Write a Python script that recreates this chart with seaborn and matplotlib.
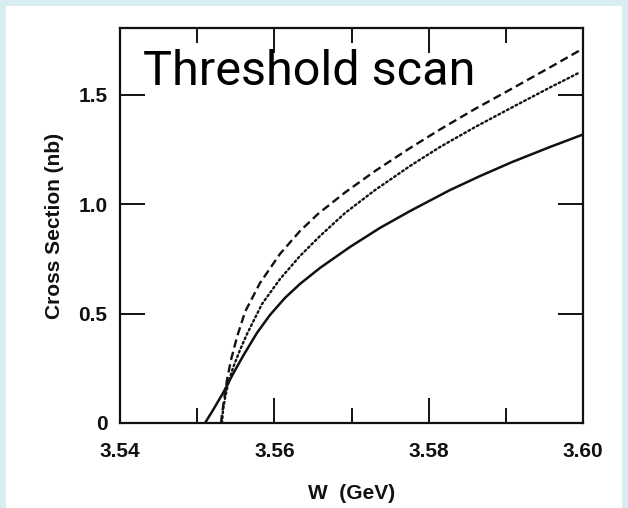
import matplotlib
matplotlib.use("Agg")
import matplotlib.pyplot as plt
import seaborn as sns
import pandas as pd
from matplotlib.patches import Rectangle
from matplotlib.ticker import MultipleLocator

# ---- data ----
w_solid = [3.55102, 3.55205, 3.55335, 3.55464, 3.55594, 3.55775, 3.55944, 3.56138,
           3.56333, 3.56592, 3.56981, 3.57369, 3.57758, 3.58276, 3.58665, 3.59080,
           3.59572, 3.60000]
s_solid = [0.000, 0.059, 0.137, 0.224, 0.306, 0.412, 0.494, 0.572,
           0.636, 0.709, 0.805, 0.892, 0.969, 1.065, 1.129, 1.193,
           1.262, 1.319]

w_dotted = [3.55322, 3.55335, 3.55361, 3.55400, 3.55464, 3.55555, 3.55646, 3.55840,
            3.56073, 3.56333, 3.56592, 3.56916, 3.57305, 3.57758, 3.58147, 3.58601,
            3.59080, 3.59572, 3.59935]
s_dotted = [0.000, 0.059, 0.114, 0.178, 0.252, 0.334, 0.407, 0.544,
            0.658, 0.764, 0.855, 0.960, 1.065, 1.175, 1.262, 1.353,
            1.443, 1.534, 1.599]

w_dashed = [3.55309, 3.55322, 3.55348, 3.55387, 3.55438, 3.55516, 3.55620, 3.55814,
            3.56073, 3.56333, 3.56566, 3.56916, 3.57305, 3.57758, 3.58147, 3.58601,
            3.59080, 3.59572, 3.60000]
s_dashed = [0.000, 0.041, 0.105, 0.197, 0.288, 0.393, 0.508, 0.640,
            0.773, 0.878, 0.956, 1.054, 1.152, 1.257, 1.342, 1.436,
            1.529, 1.626, 1.712]

x_ticks = [3.54, 3.56, 3.58, 3.60]
x_ticklabels = ["3.54", "3.56", "3.58", "3.60"]
y_ticks = [0, 0.5, 1.0, 1.5]
y_ticklabels = ["0", "0.5", "1.0", "1.5"]

title_text = "Threshold scan"
x_label = "W  (GeV)"
y_label = "Cross Section (nb)"

# ---- styling ----
sns.set_theme(style="ticks")
plt.rcParams["font.family"] = ["Liberation Sans", "DejaVu Sans"]
plt.rcParams["lines.scale_dashes"] = False

W, H = 628, 508
fig = plt.figure(figsize=(W / 100, H / 100), dpi=100)
fig.patch.set_facecolor("#d8edf1")
fig.patches.append(Rectangle((6 / W, 0), (622 - 6) / W, (H - 6) / H,
                             transform=fig.transFigure, facecolor="white",
                             edgecolor="none", zorder=-10))

ax = fig.add_axes([120 / W, (H - 423) / H, (583 - 120) / W, (423 - 28) / H])
ax.set_zorder(1)
ax.set_facecolor("white")

ink = "#111111"
df_s = pd.DataFrame({"W": w_solid, "sigma": s_solid})
df_d = pd.DataFrame({"W": w_dotted, "sigma": s_dotted})
df_a = pd.DataFrame({"W": w_dashed, "sigma": s_dashed})

sns.lineplot(data=df_s, x="W", y="sigma", ax=ax, color=ink, lw=1.8,
             estimator=None, sort=False)
sns.lineplot(data=df_d, x="W", y="sigma", ax=ax, color=ink, lw=1.7,
             estimator=None, sort=False, linestyle=(0, (1.3, 2.2)),
             dash_capstyle="round")
sns.lineplot(data=df_a, x="W", y="sigma", ax=ax, color=ink, lw=1.7,
             estimator=None, sort=False, linestyle=(0, (6, 3.2)))

ax.set_xlim(3.54, 3.60)
ax.set_ylim(0, 1.806)
ax.set_xticks(x_ticks)
ax.set_xticklabels(x_ticklabels)
ax.xaxis.set_minor_locator(MultipleLocator(0.01))
ax.set_yticks(y_ticks)
ax.set_yticklabels(y_ticklabels)

for s in ax.spines.values():
    s.set_visible(True)
    s.set_linewidth(1.6)
    s.set_color(ink)

ax.tick_params(axis="both", which="major", direction="in", length=18, width=1.4,
               color=ink, labelsize=15, labelcolor=ink, top=True, right=True)
ax.tick_params(axis="x", which="major", pad=14)
ax.tick_params(axis="y", which="major", pad=9)
ax.tick_params(axis="x", which="minor", direction="in", length=11, width=1.4,
               color=ink, top=True, bottom=True)
for lab in ax.get_xticklabels() + ax.get_yticklabels():
    lab.set_fontweight("bold")

ax.set_xlabel(x_label, fontsize=15, color=ink, labelpad=16, fontweight="bold")
ax.set_ylabel(y_label, fontsize=15, color=ink, labelpad=10, fontweight="bold")

ax.text(143 / W, 1 - 85 / H, title_text, fontsize=35, color="black",
        ha="left", va="baseline", family=["Roboto", "DejaVu Sans"],
        transform=fig.transFigure, zorder=5)

fig.savefig("out.png", dpi=100, facecolor=fig.get_facecolor())
